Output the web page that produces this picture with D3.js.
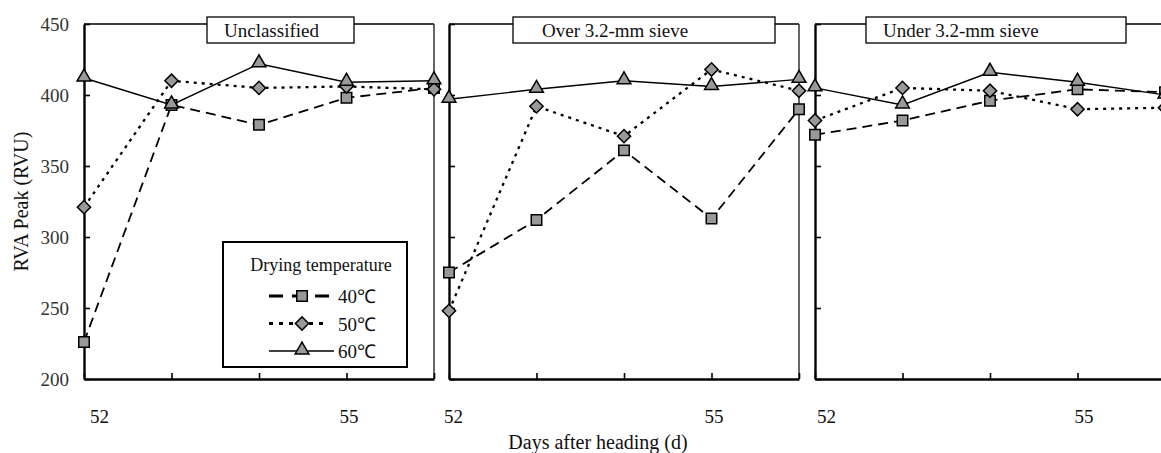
<!DOCTYPE html>
<html>
<head>
<meta charset="utf-8">
<script src="https://cdn.jsdelivr.net/npm/d3@7"></script>
<style>
  body { margin: 0; background: #fff; }
  text { font-family: "Liberation Serif", "Times New Roman", serif; }
</style>
</head>
<body>
<script>
// data
var days = [52, 53, 54, 55, 56];
var dayLabels = ["52", "", "", "55", ""];
var panelNames = ["Unclassified", "Over 3.2-mm sieve", "Under 3.2-mm sieve"];
var tempNames = ["40\u2103", "50\u2103", "60\u2103"];

var unc40 = [226, 393, 379, 398, 405];
var unc50 = [321, 410, 405, 406, 404];
var unc60 = [412, 393, 422, 409, 410];

var over40 = [275, 312, 361, 313, 390];
var over50 = [248, 392, 371, 418, 403];
var over60 = [397, 404, 410, 406, 411];

var under40 = [372, 382, 396, 404, 402];
var under50 = [382, 405, 403, 390, 391];
var under60 = [405, 393, 416, 409, 400];

var yTicks = [200, 250, 300, 350, 400, 450];

var panelData = [
  [unc40, unc50, unc60],
  [over40, over50, over60],
  [under40, under50, under60]
];

var W = 1161, H = 453;
var plotTop = 24, plotBottom = 379, pw = 350;
var panelLeft = [84, 449, 815];
// title boxes (offset from panel left, width, text padding)
var boxes = [
  {dx: 123, w: 147, pad: 17},
  {dx: 64, w: 262, pad: 29},
  {dx: 51, w: 260, pad: 17}
];
var labelNudge = [[15, 2], [4, 2], [11, 6]];

var svg = d3.select("body").append("svg")
    .attr("width", W)
    .attr("height", H);

var y = d3.scaleLinear().domain([200, 450]).range([plotBottom, plotTop]);

var styles = [
  {dash: "10,6", width: 1.8, sym: "square"},
  {dash: "3,5", width: 2.3, sym: "diamond"},
  {dash: null, width: 1.4, sym: "triangle"}
];

function symPath(kind) {
  if (kind == "square") return d3.symbol().type(d3.symbolSquare).size(110)();
  if (kind == "diamond") return d3.symbol().type(d3.symbolSquare).size(88)();
  return d3.symbol().type(d3.symbolTriangle).size(82)();
}

function marker(g, kind, cx, cy) {
  var p = g.append("path")
      .attr("d", symPath(kind))
      .attr("fill", "#999")
      .attr("stroke", "#000")
      .attr("stroke-width", 1.5);
  if (kind == "diamond") p.attr("transform", "translate(" + cx + "," + cy + ") rotate(45)");
  else if (kind == "triangle") p.attr("transform", "translate(" + cx + "," + (cy - 1) + ")");
  else p.attr("transform", "translate(" + cx + "," + cy + ")");
}

panelData.forEach(function(series, i) {
  var x0 = panelLeft[i];
  var x = d3.scaleLinear().domain([52, 56]).range([x0, x0 + pw]);
  var g = svg.append("g");

  // top and right frame
  g.append("line").attr("x1", x0).attr("x2", x0 + pw).attr("y1", plotTop).attr("y2", plotTop)
      .attr("stroke", "#000").attr("stroke-width", 1.5);
  g.append("line").attr("x1", x0 + pw).attr("x2", x0 + pw).attr("y1", plotTop).attr("y2", plotBottom)
      .attr("stroke", "#333").attr("stroke-width", 1.5);

  // y axis
  var ya = g.append("g")
      .attr("transform", "translate(" + x0 + ",0)")
      .call(d3.axisLeft(y).tickValues(yTicks).tickSize(-6).tickSizeOuter(0).tickPadding(15)
        .tickFormat(i == 0 ? d3.format("d") : function() { return ""; }));
  ya.attr("font-family", null);
  ya.select(".domain").attr("stroke-width", 2.4);
  ya.selectAll(".tick line").attr("stroke-width", 1.6);
  ya.selectAll("text").attr("font-size", 19).attr("fill", "#333");

  // x axis
  var xa = g.append("g")
      .attr("transform", "translate(0," + plotBottom + ")")
      .call(d3.axisBottom(x).tickValues(days).tickSize(-6).tickSizeOuter(0).tickPadding(31)
        .tickFormat(function(d, k) { return dayLabels[k]; }));
  xa.attr("font-family", null);
  xa.select(".domain").attr("stroke-width", 2.4);
  xa.selectAll(".tick line").attr("stroke-width", 1.6);
  xa.selectAll("text").attr("font-size", 19).attr("fill", "#111")
      .attr("dx", function(d, k) { return k == 0 ? labelNudge[i][0] : labelNudge[i][1]; });

  // lines
  series.forEach(function(vals, s) {
    var line = d3.line()
        .x(function(d, k) { return x(days[k]); })
        .y(function(d) { return y(d); });
    g.append("path")
        .attr("d", line(vals))
        .attr("fill", "none")
        .attr("stroke", "#000")
        .attr("stroke-width", styles[s].width)
        .attr("stroke-dasharray", styles[s].dash);
  });
  // markers
  series.forEach(function(vals, s) {
    vals.forEach(function(v, k) {
      marker(g, styles[s].sym, x(days[k]), y(v));
    });
  });

  // title box
  var b = boxes[i];
  g.append("rect")
      .attr("x", x0 + b.dx).attr("y", 17).attr("width", b.w).attr("height", 26)
      .attr("fill", "#fff").attr("stroke", "#000").attr("stroke-width", 1.3);
  g.append("text")
      .attr("x", x0 + b.dx + b.pad).attr("y", 36.5)
      .attr("font-size", 19).attr("fill", "#111")
      .text(panelNames[i]);
});

// legend
var lg = svg.append("g");
lg.append("rect").attr("x", 223).attr("y", 242).attr("width", 184).attr("height", 125)
    .attr("fill", "#fff").attr("stroke", "#000").attr("stroke-width", 2);
lg.append("text").attr("x", 321).attr("y", 271).attr("text-anchor", "middle")
    .attr("font-size", 18).attr("fill", "#111").text("Drying temperature");
tempNames.forEach(function(t, s) {
  var ly = 296 + s * 27.5;
  lg.append("line").attr("x1", 269).attr("x2", s == 2 ? 334 : 329).attr("y1", ly).attr("y2", ly)
      .attr("stroke", "#000").attr("stroke-width", s == 2 ? 1.4 : 2.8)
      .attr("stroke-dasharray", s == 0 ? "14,9" : (s == 1 ? "4,6" : null));
  marker(lg, styles[s].sym, 302, ly);
  lg.append("text").attr("x", 338).attr("y", ly + 7)
      .attr("font-size", 19).attr("fill", "#111").text(t);
});

// axis titles
svg.append("text")
    .attr("transform", "translate(28," + ((plotTop + plotBottom) / 2) + ") rotate(-90)")
    .attr("text-anchor", "middle")
    .attr("font-size", 20).attr("fill", "#111")
    .text("RVA Peak (RVU)");
svg.append("text")
    .attr("x", 598).attr("y", 449)
    .attr("text-anchor", "middle")
    .attr("font-size", 20).attr("fill", "#111")
    .text("Days after heading (d)");
</script>
</body>
</html>
